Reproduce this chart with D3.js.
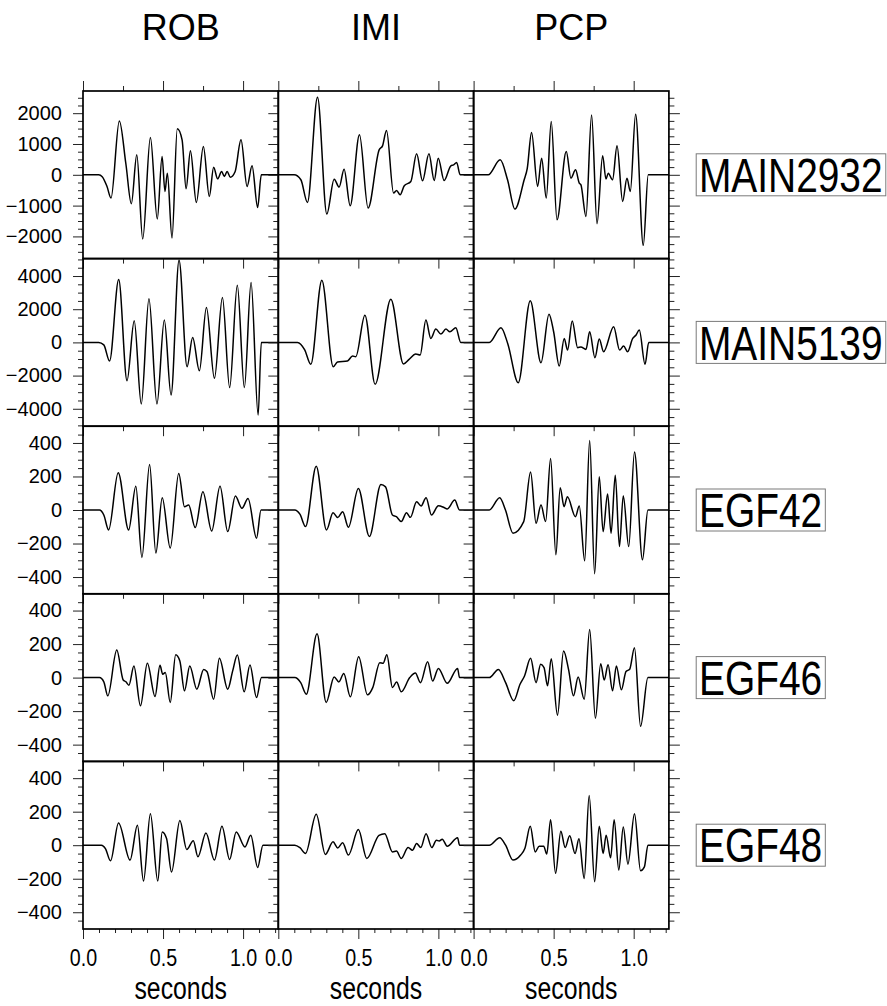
<!DOCTYPE html>
<html>
<head>
<meta charset="utf-8">
<script src="https://cdn.jsdelivr.net/npm/d3@7"></script>
<style>
  html, body { margin: 0; padding: 0; background: #fff; }
  svg { display: block; }
</style>
</head>
<body>
<svg id="chart" width="887" height="1006"></svg>
<script>
// Station columns and event rows
const columns = ["ROB", "IMI", "PCP"];
const events = ["MAIN2932", "MAIN5139", "EGF42", "EGF46", "EGF48"];

// Half-range of each row's amplitude axis
const yLimits = [2720, 5050, 500, 500, 500];
// Labelled amplitude ticks and minor tick spacing per row
const yLabelTicks = [
  [-2000, -1000, 0, 1000, 2000],
  [-4000, -2000, 0, 2000, 4000],
  [-400, -200, 0, 200, 400],
  [-400, -200, 0, 200, 400],
  [-400, -200, 0, 200, 400]
];
const yMinorSteps = [250, 500, 50, 50, 50];

// Time axis (seconds)
const timeExtent = [0, 1.22];
const xLabelTicks = [0, 0.5, 1.0];
const xMinorTicks = [0.1, 0.2, 0.3, 0.4, 0.6, 0.7, 0.8, 0.9, 1.1, 1.2];
const xFrameMajor = [0, 0.5, 1.0];
const xFrameMinor = [0.25, 0.75];

// Waveforms: [time (s), amplitude]
const robMain2932 = [[0,0],[0.098,0],[0.12,-60],[0.15,-380],[0.175,-755],[0.227,1750],[0.268,350],[0.302,-940],[0.336,648],[0.373,-2085],[0.421,1210],[0.464,-1437],[0.494,594],[0.512,-540],[0.527,54],[0.556,-2052],[0.589,1491],[0.619,1134],[0.644,-454],[0.671,778],[0.708,-897],[0.752,918],[0.789,-703],[0.816,248],[0.841,-130],[0.866,108],[0.883,-54],[0.9,108],[0.92,-76],[0.95,100],[0.987,1134],[1.025,-378],[1.056,292],[1.091,-1058],[1.114,0],[1.22,0]];
const imiMain2932 = [[0,0],[0.099,0],[0.141,-162],[0.182,-897],[0.245,2519],[0.303,-1275],[0.349,-141],[0.38,-400],[0.411,184],[0.449,-1005],[0.507,1297],[0.561,-1081],[0.63,810],[0.651,940],[0.676,1437],[0.72,-594],[0.739,-508],[0.761,-648],[0.787,-356],[0.828,-216],[0.864,680],[0.901,-195],[0.941,680],[0.974,-184],[0.999,540],[1.036,-184],[1.078,292],[1.095,320],[1.114,400],[1.136,0],[1.22,0]];
const pcpMain2932 = [[0,0],[0.091,0],[0.166,486],[0.212,-162],[0.258,-1113],[0.316,-162],[0.335,200],[0.362,1372],[0.4,-378],[0.425,540],[0.454,-756],[0.485,1729],[0.521,-1459],[0.579,756],[0.608,-108],[0.637,162],[0.66,-270],[0.67,-320],[0.702,-1351],[0.737,1945],[0.771,-1588],[0.806,616],[0.827,-140],[0.841,54],[0.868,-162],[0.896,940],[0.931,-864],[0.958,-108],[0.979,-540],[1.012,1967],[1.06,-2290],[1.091,0],[1.22,0]];

const robMain5139 = [[0,0],[0.098,0],[0.13,-150],[0.166,-1122],[0.223,3788],[0.275,-2305],[0.32,1303],[0.364,-3707],[0.412,2625],[0.462,-3707],[0.508,1343],[0.55,-3166],[0.6,4950],[0.65,-1463],[0.685,301],[0.727,-1703],[0.771,2104],[0.821,-2164],[0.871,2705],[0.916,-2725],[0.964,3447],[1.008,-2725],[1.05,3607],[1.094,-4369],[1.114,0],[1.22,0]];
const imiMain5139 = [[0,0],[0.12,0],[0.165,-450],[0.203,-1323],[0.272,3747],[0.343,-1463],[0.37,-1182],[0.432,-1122],[0.464,-822],[0.484,-862],[0.541,1643],[0.605,-2525],[0.703,2605],[0.782,-1303],[0.817,-1022],[0.859,-701],[0.886,-762],[0.922,1343],[0.953,240],[0.984,802],[1.016,501],[1.047,802],[1.072,641],[1.109,882],[1.14,0],[1.22,0]];
const pcpMain5139 = [[0,0],[0.098,0],[0.171,882],[0.213,-60],[0.279,-2425],[0.354,2505],[0.421,-1222],[0.471,1703],[0.5,641],[0.535,-1423],[0.566,240],[0.587,-461],[0.616,1283],[0.65,-321],[0.67,-270],[0.702,-421],[0.725,641],[0.758,-922],[0.785,200],[0.812,-561],[0.875,942],[0.912,-461],[0.937,-220],[0.962,-561],[0.994,240],[1.015,450],[1.035,741],[1.071,-1323],[1.094,0],[1.22,0]];

const robEgf42 = [[0,0],[0.103,0],[0.13,-30],[0.16,-119],[0.22,222],[0.285,-119],[0.33,142],[0.368,-283],[0.416,271],[0.455,-257],[0.495,73],[0.545,-227],[0.598,218],[0.634,20],[0.66,30],[0.701,-105],[0.749,109],[0.804,-125],[0.856,142],[0.904,-129],[0.952,83],[0.993,10],[1.031,69],[1.084,-168],[1.112,0],[1.22,0]];
const imiEgf42 = [[0,0],[0.103,0],[0.135,-25],[0.17,-99],[0.237,261],[0.301,-119],[0.342,-16],[0.371,-45],[0.402,-10],[0.438,-103],[0.5,129],[0.569,-158],[0.641,152],[0.67,138],[0.713,-30],[0.738,-40],[0.768,-69],[0.801,-16],[0.825,-44],[0.864,49],[0.892,24],[0.923,73],[0.957,-30],[1.0,26],[1.035,15],[1.055,6],[1.102,59],[1.132,0],[1.22,0]];
const pcpEgf42 = [[0,0],[0.098,0],[0.163,73],[0.199,0],[0.246,-138],[0.313,-69],[0.356,227],[0.39,-79],[0.421,30],[0.45,-69],[0.481,307],[0.514,-267],[0.541,133],[0.565,20],[0.586,79],[0.636,-40],[0.66,24],[0.694,-303],[0.725,415],[0.756,-380],[0.785,198],[0.809,-129],[0.837,95],[0.859,-138],[0.885,208],[0.911,-218],[0.935,85],[0.969,-218],[1.005,346],[1.055,-297],[1.089,0],[1.22,0]];

const robEgf46 = [[0,0],[0.103,0],[0.13,-25],[0.155,-109],[0.211,164],[0.251,-14],[0.268,-25],[0.287,-45],[0.318,69],[0.359,-168],[0.402,85],[0.45,-113],[0.481,73],[0.498,20],[0.514,30],[0.545,-148],[0.579,136],[0.605,99],[0.634,-79],[0.667,69],[0.711,-69],[0.754,49],[0.775,35],[0.816,-129],[0.852,115],[0.904,-69],[0.935,40],[0.964,135],[1.007,-85],[1.043,75],[1.084,-119],[1.115,0],[1.22,0]];
const imiEgf46 = [[0,0],[0.103,0],[0.14,-30],[0.175,-99],[0.242,261],[0.299,-148],[0.349,4],[0.378,-26],[0.409,24],[0.45,-115],[0.502,125],[0.557,-103],[0.59,-60],[0.634,89],[0.655,85],[0.678,136],[0.713,-59],[0.739,-26],[0.768,-85],[0.821,0],[0.856,28],[0.888,-30],[0.933,95],[0.964,-20],[1.0,55],[1.055,-34],[1.12,55],[1.132,0],[1.22,0]];
const pcpEgf46 = [[0,0],[0.098,0],[0.155,49],[0.2,-30],[0.251,-138],[0.29,-40],[0.318,10],[0.356,115],[0.39,-30],[0.419,79],[0.44,60],[0.462,-49],[0.485,113],[0.524,-224],[0.562,158],[0.593,49],[0.624,-109],[0.653,4],[0.691,-129],[0.725,287],[0.761,-243],[0.794,83],[0.816,-14],[0.84,77],[0.868,-79],[0.892,69],[0.923,-73],[0.952,36],[0.975,50],[1.005,178],[1.043,-291],[1.089,0],[1.22,0]];

const robEgf48 = [[0,0],[0.115,0],[0.14,-20],[0.172,-93],[0.222,133],[0.294,-89],[0.34,119],[0.378,-214],[0.421,188],[0.467,-214],[0.495,79],[0.522,40],[0.553,-160],[0.605,148],[0.648,-26],[0.689,26],[0.718,-69],[0.768,73],[0.821,-89],[0.868,113],[0.916,-85],[0.957,79],[1.012,-10],[1.048,59],[1.091,-133],[1.124,0],[1.22,0]];
const imiEgf48 = [[0,0],[0.103,0],[0.135,-15],[0.17,-49],[0.237,184],[0.294,-55],[0.342,20],[0.371,-16],[0.402,14],[0.438,-59],[0.5,93],[0.553,-79],[0.629,59],[0.665,69],[0.713,-40],[0.738,-35],[0.768,-79],[0.811,-14],[0.838,-30],[0.864,10],[0.89,-14],[0.923,69],[0.959,-14],[0.988,30],[1.005,25],[1.024,36],[1.055,-6],[1.12,45],[1.132,0],[1.22,0]];
const pcpEgf48 = [[0,0],[0.098,0],[0.163,45],[0.2,0],[0.246,-89],[0.294,-59],[0.32,-20],[0.354,113],[0.385,-40],[0.41,-6],[0.438,-6],[0.457,-53],[0.481,152],[0.512,-168],[0.545,83],[0.572,-14],[0.6,57],[0.634,-49],[0.658,38],[0.691,-198],[0.722,297],[0.756,-218],[0.785,113],[0.809,-49],[0.828,59],[0.856,-75],[0.878,152],[0.907,-148],[0.935,109],[0.964,-113],[1.005,188],[1.043,-152],[1.067,-129],[1.089,0],[1.22,0]];

const traces = [
  [robMain2932, imiMain2932, pcpMain2932],
  [robMain5139, imiMain5139, pcpMain5139],
  [robEgf42, imiEgf42, pcpEgf42],
  [robEgf46, imiEgf46, pcpEgf46],
  [robEgf48, imiEgf48, pcpEgf48]
];

// Layout
const W = 887, H = 1006;
const plotLeft = 83, panelW = 195.3;
const plotTop = 91, panelH = 167.6;
const fontWide = "'Liberation Sans', Arial, Helvetica, sans-serif";

const svg = d3.select("#chart");
svg.append("rect").attr("width", W).attr("height", H).attr("fill", "#fff");

const x = d3.scaleLinear().domain(timeExtent).range([0, panelW]);
const line = d3.line().curve(d3.curveMonotoneX);

function styleTicks(g, color) {
  g.select(".domain").remove();
  g.selectAll(".tick line").attr("stroke", color || "#222").attr("stroke-width", 1);
}

// Column titles
columns.forEach((name, c) => {
  svg.append("text")
    .attr("x", plotLeft + c * panelW + panelW / 2)
    .attr("y", 40)
    .attr("text-anchor", "middle")
    .attr("font-family", fontWide)
    .attr("font-size", 36)
    .attr("fill", "#000")
    .text(name);
});

const defs = svg.append("defs");
defs.append("clipPath").attr("id", "panel-clip")
  .append("rect").attr("x", 0).attr("y", 0).attr("width", panelW).attr("height", panelH);

events.forEach((ev, r) => {
  const lim = yLimits[r];
  const y = d3.scaleLinear().domain([-lim, lim]).range([panelH, 0]);
  const majors = yLabelTicks[r];
  const minors = d3.range(-lim + (lim % yMinorSteps[r]), lim, yMinorSteps[r])
    .filter(v => Math.abs(v) < lim - 1 && !majors.includes(v));

  columns.forEach((col, c) => {
    const g = svg.append("g")
      .attr("transform", `translate(${plotLeft + c * panelW},${plotTop + r * panelH})`);

    // waveform
    g.append("path")
      .datum(traces[r][c])
      .attr("clip-path", "url(#panel-clip)")
      .attr("d", line.x(d => x(d[0])).y(d => y(d[1])))
      .attr("fill", "none")
      .attr("stroke", "#000")
      .attr("stroke-width", 1.5)
      .attr("stroke-linejoin", "round");

    // amplitude ticks on the left edge (outward)
    g.append("g")
      .call(d3.axisLeft(y).tickValues(minors).tickSize(5).tickFormat(""))
      .call(a => styleTicks(a));
    const leftMajor = g.append("g")
      .call(d3.axisLeft(y).tickValues(majors).tickSize(10).tickPadding(11)
        .tickFormat(c === 0 ? d3.format("d") : ""))
      .call(a => styleTicks(a));
    leftMajor.selectAll("text")
      .attr("font-family", fontWide)
      .attr("font-size", 20)
      .attr("fill", "#000");

    // right edge ticks on the last column
    if (c === columns.length - 1) {
      g.append("g").attr("transform", `translate(${panelW},0)`)
        .call(d3.axisRight(y).tickValues(minors).tickSize(5.5).tickFormat(""))
        .call(a => styleTicks(a));
      g.append("g").attr("transform", `translate(${panelW},0)`)
        .call(d3.axisRight(y).tickValues(majors).tickSize(11).tickFormat(""))
        .call(a => styleTicks(a));
    }

    // time ticks on the top edge: outward on the first row, inward below
    const topAxis = r === 0 ? d3.axisTop : d3.axisBottom;
    g.append("g")
      .call(topAxis(x).tickValues(xFrameMajor).tickSize(10).tickFormat(""))
      .call(a => styleTicks(a));
    g.append("g")
      .call(topAxis(x).tickValues(xFrameMinor).tickSize(5).tickFormat(""))
      .call(a => styleTicks(a));

    // bottom time axis with labels on the last row
    if (r === events.length - 1) {
      g.append("g").attr("transform", `translate(0,${panelH})`)
        .call(d3.axisBottom(x).tickValues(xMinorTicks).tickSize(4).tickFormat(""))
        .call(a => styleTicks(a));
      const bottom = g.append("g").attr("transform", `translate(0,${panelH})`)
        .call(d3.axisBottom(x).tickValues(xLabelTicks).tickSize(10).tickPadding(10)
          .tickFormat(d3.format(".1f")))
        .call(a => styleTicks(a));
      bottom.selectAll("text")
        .attr("font-family", fontWide)
        .attr("font-size", 24)
        .attr("fill", "#000")
        .attr("transform", "scale(0.82,1)");

      svg.append("text")
        .attr("transform", `translate(${plotLeft + c * panelW + panelW / 2},999) scale(0.8,1)`)
        .attr("text-anchor", "middle")
        .attr("font-family", fontWide)
        .attr("font-size", 31)
        .attr("fill", "#000")
        .text("seconds");
    }

    // panel frame
    g.append("rect")
      .attr("width", panelW).attr("height", panelH)
      .attr("fill", "none").attr("stroke", "#000").attr("stroke-width", 1.7);
  });

  // boxed event label to the right of the row
  const cy = plotTop + r * panelH + panelH / 2;
  const lab = svg.append("g");
  const txt = lab.append("text")
    .attr("transform", `translate(699,${cy + 17.2}) scale(0.81,1)`)
    .attr("font-family", fontWide)
    .attr("font-size", 48)
    .attr("fill", "#000")
    .text(ev);
  const tw = txt.node().getComputedTextLength() * 0.81;
  lab.insert("rect", "text")
    .attr("x", 696.2).attr("y", cy - 21)
    .attr("width", tw + 6).attr("height", 42)
    .attr("fill", "#fff").attr("stroke", "#7a7a7a").attr("stroke-width", 1);
});
</script>
</body>
</html>
